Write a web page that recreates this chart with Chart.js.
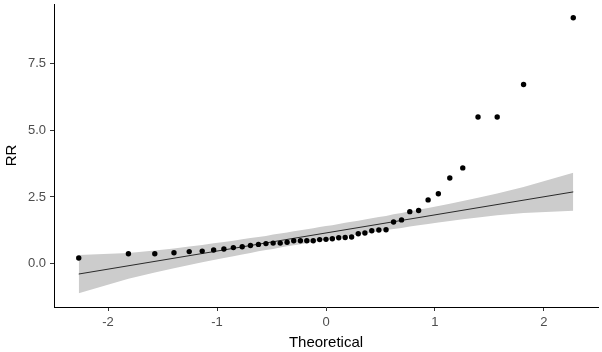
<!DOCTYPE html>
<html lang="en">
<head>
  <meta charset="UTF-8">
  <title>QQ plot RR</title>
  <script src="https://cdn.jsdelivr.net/npm/chart.js"></script>
  <style>
    body { margin: 0; background: #fff; }
    #qq { display: block; }
  </style>
</head>
<body>
  <canvas id="qq" width="602" height="352"></canvas>

  <script>
    // theoretical normal quantiles (x) and sorted RR sample (y)
    const theoretical = [
      -2.269, -1.813, -1.571, -1.395, -1.255, -1.136, -1.031, -0.937, -0.850, -0.769,
      -0.693, -0.620, -0.551, -0.485, -0.420, -0.357, -0.296, -0.235, -0.176, -0.117,
      -0.058, 0.000, 0.058, 0.117, 0.176, 0.235, 0.296, 0.357, 0.420, 0.485,
      0.551, 0.620, 0.693, 0.769, 0.850, 0.937, 1.031, 1.136, 1.255, 1.395,
      1.571, 1.813, 2.269
    ];
    const rr = [
      0.21, 0.37, 0.37, 0.41, 0.45, 0.47, 0.51, 0.55, 0.60, 0.63,
      0.68, 0.72, 0.75, 0.77, 0.77, 0.80, 0.86, 0.86, 0.86, 0.86,
      0.90, 0.91, 0.93, 0.97, 0.98, 1.00, 1.12, 1.15, 1.23, 1.26,
      1.27, 1.56, 1.64, 1.95, 1.99, 2.39, 2.62, 3.21, 3.59, 5.50,
      5.50, 6.72, 9.22
    ];
    // confidence band edges, read at each theoretical quantile
    const bandUpper = [
      0.32, 0.40, 0.49, 0.57, 0.64, 0.70, 0.76, 0.81, 0.86, 0.91,
      0.96, 1.00, 1.04, 1.09, 1.13, 1.17, 1.21, 1.25, 1.29, 1.33,
      1.37, 1.41, 1.44, 1.49, 1.53, 1.57, 1.61, 1.65, 1.70, 1.75,
      1.79, 1.85, 1.90, 1.96, 2.02, 2.09, 2.16, 2.25, 2.35, 2.47,
      2.63, 2.87, 3.41
    ];
    const bandLower = [
      -1.11, -0.57, -0.33, -0.17, -0.05, 0.05, 0.14, 0.21, 0.28, 0.34,
      0.40, 0.46, 0.51, 0.55, 0.60, 0.65, 0.69, 0.73, 0.77, 0.81,
      0.86, 0.90, 0.93, 0.97, 1.01, 1.05, 1.09, 1.13, 1.17, 1.21,
      1.26, 1.30, 1.34, 1.39, 1.44, 1.49, 1.54, 1.60, 1.66, 1.73,
      1.81, 1.90, 1.98
    ];
    // reference line end points
    const lineX = [-2.269, 2.269];
    const lineY = [-0.39, 2.69];

    const xTicks = [-2, -1, 0, 1, 2];
    const yTicks = [0, 2.5, 5, 7.5];

    const pts = (xs, ys) => xs.map((x, i) => ({ x: x, y: ys[i] }));

    const tickFont = { family: "'Liberation Sans', Arial, sans-serif", size: 13 };
    const titleFont = { family: "'Liberation Sans', Arial, sans-serif", size: 15 };

    new Chart(document.getElementById('qq').getContext('2d'), {
      type: 'scatter',
      data: {
        datasets: [
          {
            label: 'RR',
            data: pts(theoretical, rr),
            pointRadius: 2.7,
            pointBackgroundColor: '#000',
            pointBorderWidth: 0,
            order: 0
          },
          {
            label: 'line',
            type: 'line',
            data: pts(lineX, lineY),
            borderColor: '#2a2a2a',
            borderWidth: 1,
            pointRadius: 0,
            fill: false,
            order: 1
          },
          {
            label: 'upper',
            type: 'line',
            data: pts(theoretical, bandUpper),
            borderWidth: 0,
            borderColor: 'rgba(0,0,0,0)',
            backgroundColor: '#cccccc',
            pointRadius: 0,
            tension: 0,
            fill: '+1',
            order: 2
          },
          {
            label: 'lower',
            type: 'line',
            data: pts(theoretical, bandLower),
            borderWidth: 0,
            borderColor: 'rgba(0,0,0,0)',
            pointRadius: 0,
            tension: 0,
            fill: false,
            order: 3
          }
        ]
      },
      options: {
        responsive: false,
        animation: false,
        devicePixelRatio: 1,
        layout: { padding: { top: 3, right: 2, left: 0, bottom: 0 } },
        plugins: { legend: { display: false }, tooltip: { enabled: false } },
        scales: {
          x: {
            type: 'linear',
            min: -2.496,
            max: 2.496,
            afterBuildTicks: s => { s.ticks = xTicks.map(v => ({ value: v })); },
            afterFit: s => { s.height = 45; s.paddingLeft = 0; s.paddingRight = 0; },
            grid: { drawOnChartArea: false, drawTicks: true, tickLength: 4, color: '#333' },
            border: { display: true, color: '#000', width: 1 },
            ticks: { font: tickFont, color: '#4d4d4d', padding: 4, maxRotation: 0 },
            title: { display: true, text: 'Theoretical', font: titleFont, color: '#000', padding: { top: 0, bottom: 0 } }
          },
          y: {
            type: 'linear',
            min: -1.627,
            max: 9.737,
            afterBuildTicks: s => { s.ticks = yTicks.map(v => ({ value: v })); },
            afterFit: s => { s.width = 54; s.paddingTop = 0; s.paddingBottom = 0; },
            grid: { drawOnChartArea: false, drawTicks: true, tickLength: 4, color: '#333' },
            border: { display: true, color: '#000', width: 1 },
            ticks: { font: tickFont, color: '#4d4d4d', padding: 4, callback: v => v.toFixed(1) },
            title: { display: true, text: 'RR', font: titleFont, color: '#000', padding: { top: 3, bottom: 0 } }
          }
        }
      }
    });
  </script>
</body>
</html>
